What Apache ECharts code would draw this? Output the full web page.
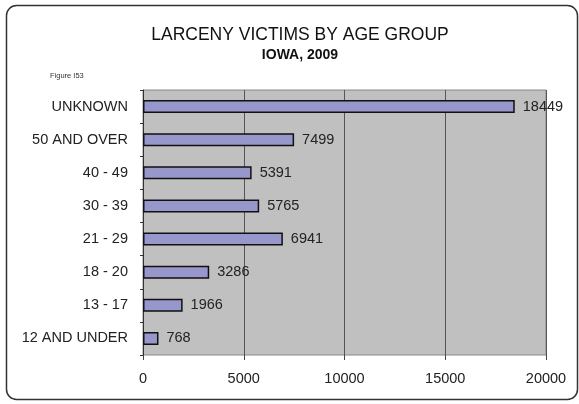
<!DOCTYPE html>
<html lang="en">
<head>
    <meta charset="UTF-8">
    <title>Larceny victims by age group</title>
    <script src="https://cdn.jsdelivr.net/npm/echarts@6/dist/echarts.min.js"></script>
    <style>
        html, body { margin: 0; padding: 0; background: #fff; }
        #main { width: 579px; height: 404px; }
    </style>
</head>
<body>
    <div id="main"></div>
    <script>
        // categories bottom to top (category axis on y starts at the bottom)
        var ageGroups = ['12 AND UNDER', '13 - 17', '18 - 20', '21 - 29', '30 - 39', '40 - 49', '50 AND OVER', 'UNKNOWN'];
        var victims = [768, 1966, 3286, 6941, 5765, 5391, 7499, 18449];
        var xTicks = [0, 5000, 10000, 15000, 20000];

        var font = '"Liberation Sans", Arial, sans-serif';

        var option = {
            backgroundColor: '#fff',
            animation: false,
            title: {
                text: 'LARCENY VICTIMS BY AGE GROUP',
                subtext: 'IOWA, 2009',
                left: 295,
                textAlign: 'center',
                top: 21,
                itemGap: 4,
                textStyle: { fontFamily: font, fontSize: 17.5, fontWeight: 'normal', color: '#111' },
                subtextStyle: { fontFamily: font, fontSize: 14, fontWeight: 'bold', color: '#111' }
            },
            graphic: [{
                type: 'rect',
                shape: { x: 6.5, y: 5.5, width: 571, height: 394, r: 10 },
                style: { fill: 'none', stroke: '#333', lineWidth: 1.5 }
            }, {
                type: 'text',
                left: 50,
                top: 72,
                style: { text: 'Figure I53', font: '7.5px ' + font, fill: '#333' }
            }],
            grid: {
                left: 143,
                right: 33,
                top: 90,
                bottom: 49,
                show: true,
                backgroundColor: '#c0c0c0',
                borderColor: '#888',
                borderWidth: 1
            },
            xAxis: {
                type: 'value',
                min: xTicks[0],
                max: xTicks[xTicks.length - 1],
                interval: 5000,
                axisLine: { show: false },
                axisTick: { show: true, length: 5, lineStyle: { color: '#444' } },
                axisLabel: {
                    fontFamily: font, fontSize: 14.5, color: '#222', margin: 16,
                    formatter: function (v) { return String(v); }
                },
                splitLine: { show: true, lineStyle: { color: '#555', width: 1 } }
            },
            yAxis: {
                type: 'category',
                data: ageGroups,
                axisLine: { show: true, lineStyle: { color: '#333' } },
                axisTick: { show: true, length: 3, lineStyle: { color: '#333' } },
                axisLabel: { fontFamily: font, fontSize: 14.5, color: '#222', margin: 15 }
            },
            series: [{
                type: 'bar',
                data: victims,
                barWidth: 13,
                itemStyle: { color: '#9797cb', borderColor: '#111', borderWidth: 1.5 },
                label: {
                    show: true,
                    position: 'right',
                    distance: 8,
                    fontFamily: font,
                    fontSize: 14.5,
                    color: '#222'
                }
            }]
        };

        var myChart = echarts.init(document.getElementById('main'));
        myChart.setOption(option);
    </script>
</body>
</html>
